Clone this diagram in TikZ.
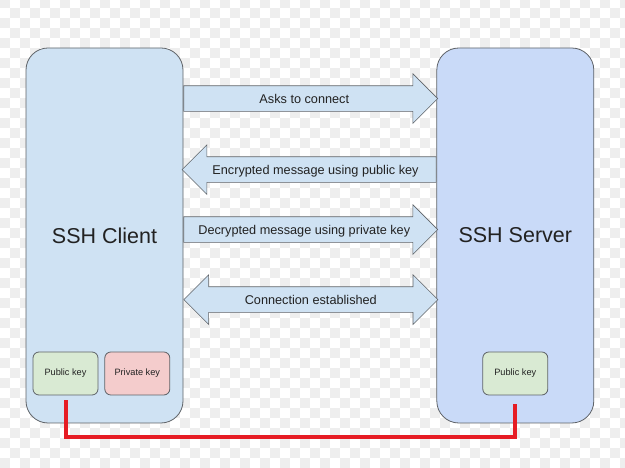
\documentclass[tikz,border=0pt]{standalone}
\usepackage{fontspec}
\setmainfont{Liberation Sans}
\usepackage{tikz}
\usetikzlibrary{shapes.arrows,positioning}
\definecolor{sshblue}{RGB}{207,226,243}
\definecolor{sshserver}{RGB}{201,218,248}
\definecolor{sshgreen}{RGB}{217,234,211}
\definecolor{sshpink}{RGB}{244,204,204}
\definecolor{sshborder}{RGB}{95,99,104}
\definecolor{sshred}{RGB}{230,28,36}
\definecolor{sshcheck}{RGB}{238,238,238}
\definecolor{sshtext}{RGB}{34,34,34}
\tikzstyle{host} = [rectangle, rounded corners=22pt, minimum width=157pt, minimum height=375pt, draw=sshborder, fill=sshblue, line width=0.8pt, text=sshtext, font=\fontsize{21.5}{24}\selectfont]
\tikzstyle{keybox} = [rectangle, rounded corners=6pt, minimum width=65pt, minimum height=43pt, draw=sshborder, fill=sshgreen, line width=0.8pt, text=sshtext, font=\fontsize{9.2}{11}\selectfont]
\tikzstyle{msg} = [single arrow, single arrow head extend=12pt, minimum height=254pt, inner ysep=6.25pt, text height=11.5pt, text depth=1pt, draw=sshborder, fill=sshblue, line width=0.6pt, text=sshtext, font=\fontsize{12.7}{15}\selectfont]
\tikzstyle{msgboth} = [msg, double arrow, double arrow head extend=12pt]
\tikzstyle{keyline} = [line width=4pt, color=sshred]

\begin{document}
\begin{tikzpicture}[x=1pt, y=1pt]
\useasboundingbox (0,0) rectangle (625,468);
\foreach \j in {0,...,46} {
  \pgfmathtruncatemacro\off{mod(\j,2)*10}
  \foreach \i in {0,20,...,620}
    \fill[sshcheck] (\i+\off,\j*10) rectangle ++(10,10);
}

\node (client) [host] at (104.5,232.5) {SSH Client};
\node (server) [host, fill=sshserver, right=253pt of client] {SSH Server};

\node (ask) [msg, anchor=tail] at ([yshift=-51pt]client.north east) {Asks to connect};
\node (enc) [msg, shape border rotate=180, anchor=tail] at ([yshift=-122pt]server.north west) {Encrypted message using public key};
\node (dec) [msg, anchor=tail] at ([yshift=-182pt]client.north east) {Decrypted message using private key};
\node (est) [msgboth, anchor=west] at ([yshift=-252pt]client.north east) {Connection established};

\node (pubc) [keybox, above right=28pt and 7pt of client.south west] {Public key};
\node (privc) [keybox, fill=sshpink, right=6pt of pubc] {Private key};
\node (pubs) [keybox, above=28pt of server.south] {Public key};

\draw[keyline] ([yshift=-5pt]pubc.south) -- ++(0,-37) -| ([yshift=-9pt]pubs.south);
\end{tikzpicture}
\end{document}
